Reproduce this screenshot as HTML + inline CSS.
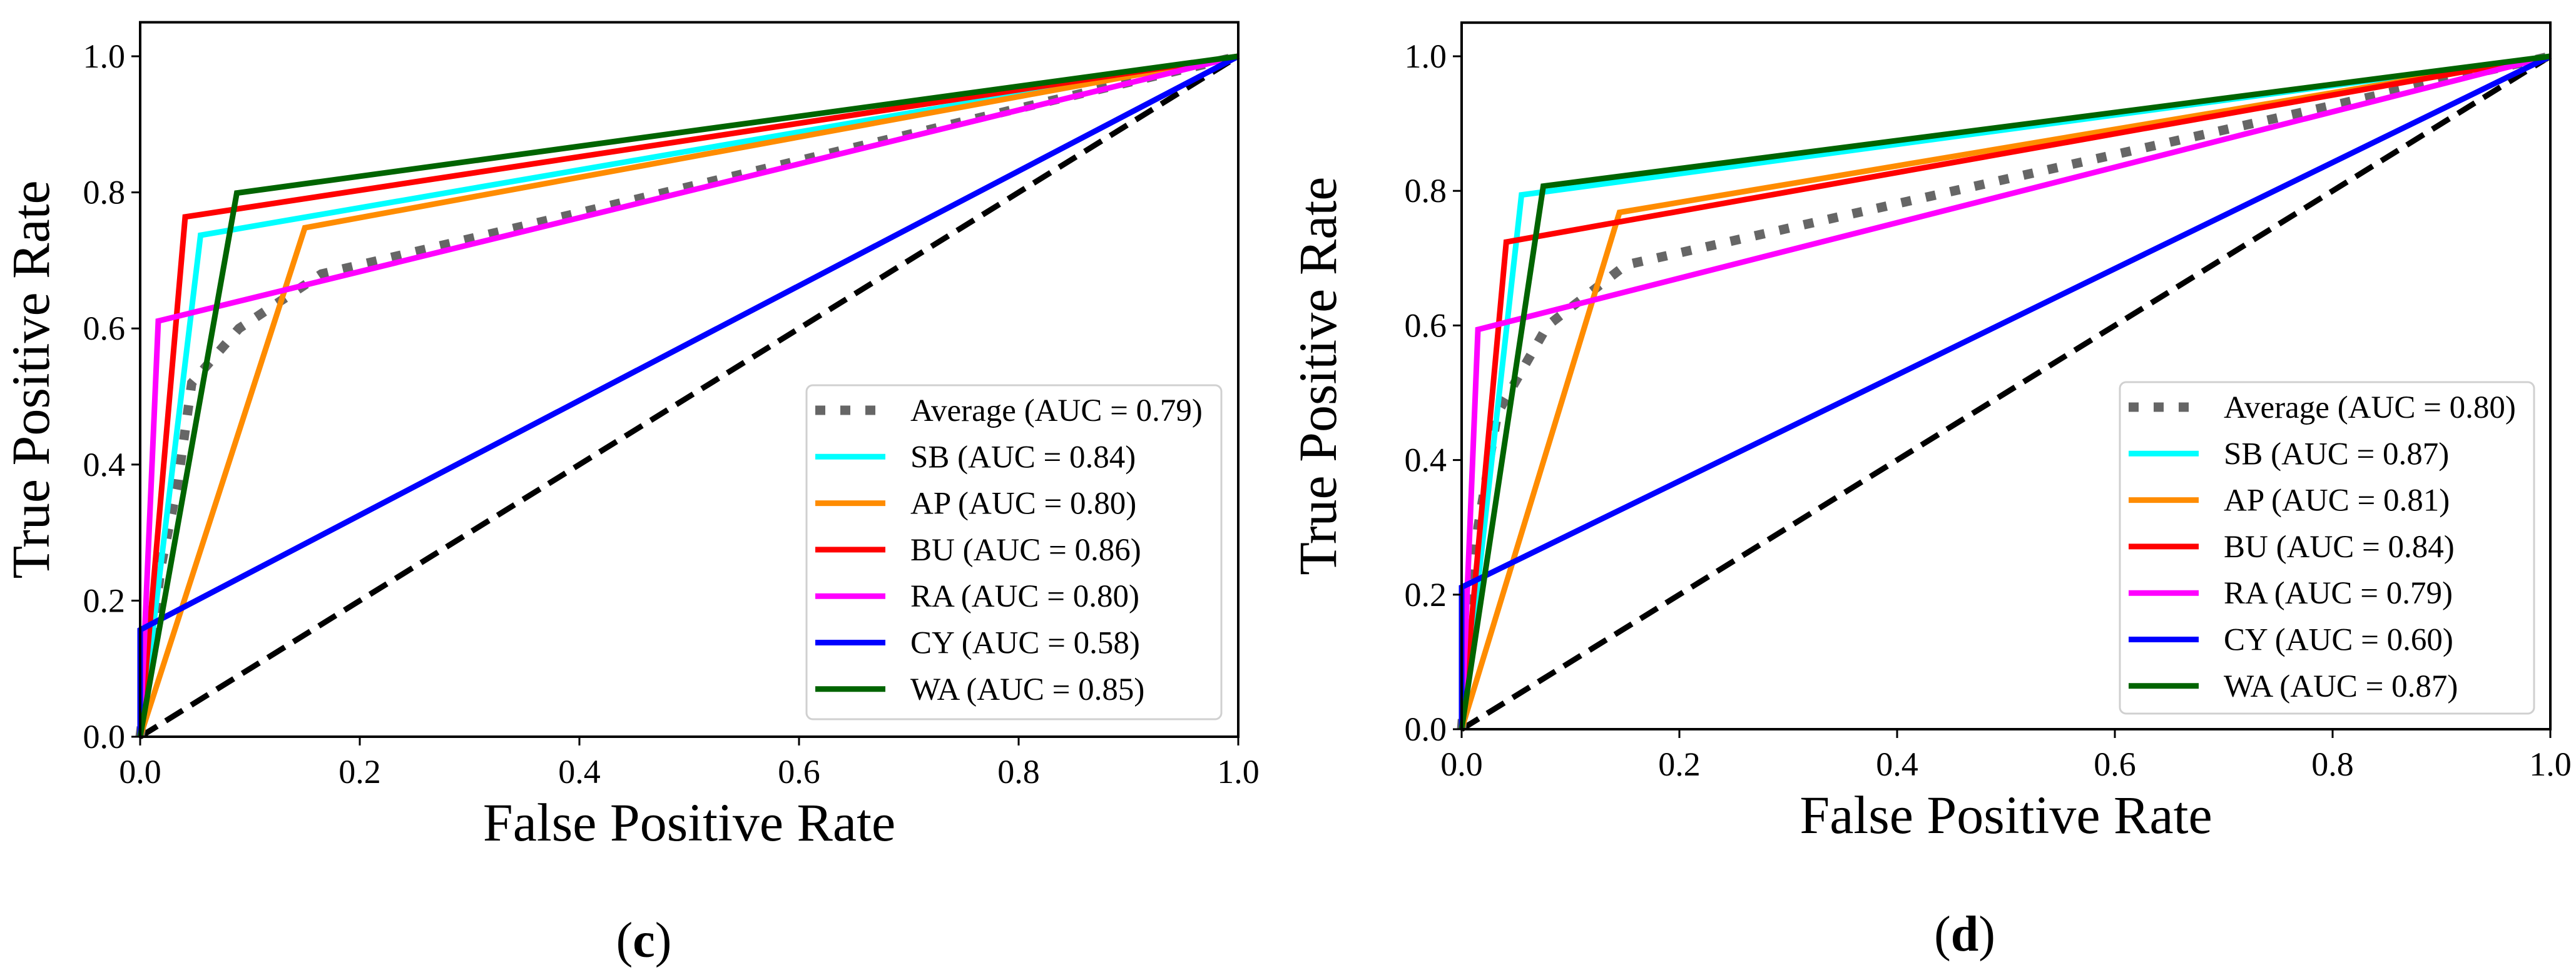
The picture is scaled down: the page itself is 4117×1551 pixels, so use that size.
<!DOCTYPE html>
<html><head><meta charset="utf-8"><style>
html,body{margin:0;padding:0;background:#fff}
svg{display:block}
text{font-family:"Liberation Serif",serif;fill:#000}
</style></head><body>
<svg id="root" width="4117" height="1551" viewBox="0 0 4117 1551" xmlns="http://www.w3.org/2000/svg"></svg>
<script>
// ---- data ----
const seriesNames = ["Average","SB","AP","BU","RA","CY","WA"];
const seriesColors = ["#666666","#00ffff","#ff8c00","#ff0000","#ff00ff","#0000ff","#006400"];
const ticks = [0,0.2,0.4,0.6,0.8,1.0];
const tickLabels = ["0.0","0.2","0.4","0.6","0.8","1.0"];
// panel c
const cAUC = ["0.79","0.84","0.80","0.86","0.80","0.58","0.85"];
const cX = [[0,0.019,0.034,0.047,0.09,0.165,1],[0,0.055,1],[0,0.150,1],[0,0.041,1],[0,0.0165,1],[0,0,1],[0,0.088,1]];
const cY = [[0,0.25,0.37,0.52,0.60,0.68,1],[0,0.737,1],[0,0.748,1],[0,0.764,1],[0,0.611,1],[0,0.157,1],[0,0.799,1]];
// panel d
const dAUC = ["0.80","0.87","0.81","0.84","0.79","0.60","0.87"];
const dX = [[0,0.015,0.033,0.079,0.151,1],[0,0.055,1],[0,0.145,1],[0,0.041,1],[0,0.015,1],[0,0,1],[0,0.075,1]];
const dY = [[0,0.3,0.47,0.60,0.69,1],[0,0.794,1],[0,0.768,1],[0,0.724,1],[0,0.594,1],[0,0.211,1],[0,0.807,1]];

const NS="http://www.w3.org/2000/svg";
const root=document.getElementById('root');
function mk(tag,attrs,parent){const e=document.createElementNS(NS,tag);for(const k in attrs)e.setAttribute(k,attrs[k]);(parent||root).appendChild(e);return e;}

function panel(p){
  const g=mk('g',{});
  
  
  const sx=v=>p.x0+v*(p.x1-p.x0);
  const sy=v=>p.y0-v*(p.y0-p.y1);
  const top=sy(1.05);
  const diag=mk('line',{x1:sx(0),y1:sy(0),x2:sx(1),y2:sy(1),stroke:'#000','stroke-width':9,'stroke-dasharray':'32,16'},g);
  
  
  [0,1,2,3,4,5,6].forEach(i=>{
    const pts=p.X[i].map((x,j)=>sx(x)+','+sy(p.Y[i][j])).join(' ');
    const a={points:pts,fill:'none',stroke:seriesColors[i],'stroke-width':i==0?15:9,'stroke-linejoin':'miter'};
    if(i==0)a['stroke-dasharray']='16,24';
    const l=mk('polyline',a,g);
    
    
  });
  const fr=mk('rect',{x:p.x0,y:top,width:p.x1-p.x0,height:p.y0-top,fill:'none',stroke:'#000','stroke-width':4},g);
  
  
  ticks.forEach((t,i)=>{
    mk('line',{x1:sx(t),y1:p.y0,x2:sx(t),y2:p.y0+14,stroke:'#000','stroke-width':3},g);
    const xt=mk('text',{x:sx(t),y:p.y0+74,'font-size':54,'text-anchor':'middle'},g);
    xt.textContent=tickLabels[i];
    
    
    mk('line',{x1:p.x0,y1:sy(t),x2:p.x0-14,y2:sy(t),stroke:'#000','stroke-width':3},g);
    const yt=mk('text',{x:p.x0-24,y:sy(t)+18,'font-size':54,'text-anchor':'end'},g);
    yt.textContent=tickLabels[i];
    
    
  });
  const xtitle=mk('text',{x:(p.x0+p.x1)/2,y:p.y0+166,'font-size':86,'text-anchor':'middle'},g);
  xtitle.textContent='False Positive Rate';
  
  
  const ytitle=mk('text',{x:0,y:0,'font-size':86,'text-anchor':'middle',transform:`translate(${p.ytx},${(p.y0+top)/2}) rotate(-90)`},g);
  ytitle.textContent='True Positive Rate';
  
  
  const lg=mk('g',{},g);
  
  
  mk('rect',{x:p.lx,y:p.ly,width:p.lw,height:p.lh,rx:10,fill:'#fff','fill-opacity':0.8,stroke:'#d0d0d0','stroke-width':3},lg);
  seriesNames.forEach((n,i)=>{
    const yy=p.ly+40+i*74.3;
    const a={x1:p.lx+14,y1:yy,x2:p.lx+126,y2:yy,stroke:seriesColors[i],'stroke-width':i==0?15:9};
    if(i==0)a['stroke-dasharray']='16,24';
    mk('line',a,lg);
    const t=mk('text',{x:p.lx+166,y:yy+17,'font-size':51},lg);
    t.textContent=n+' (AUC = '+p.auc[i]+')';
    
    
  });
  const cap=mk('text',{x:p.capx,y:p.capy,'font-size':80,'text-anchor':'middle'},g);
  cap.innerHTML='(<tspan font-weight="bold">'+p.id+'</tspan>)';
  
  
}
panel({id:'c',x0:224,x1:1979,y0:1178,y1:90,X:cX,Y:cY,auc:cAUC,ytx:78,lx:1289,ly:616,lw:663,lh:534,capx:1029,capy:1530});
panel({id:'d',x0:2336,x1:4076,y0:1166,y1:90,X:dX,Y:dY,auc:dAUC,ytx:2135,lx:3388,ly:611,lw:662,lh:530,capx:3140,capy:1520});
</script>
</body></html>
